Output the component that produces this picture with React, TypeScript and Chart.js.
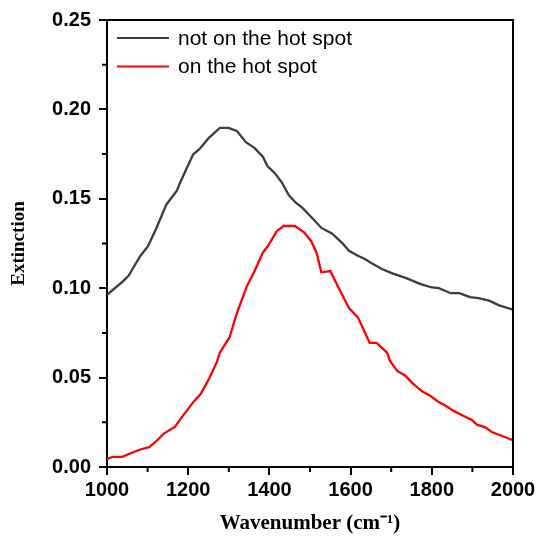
import React, { useEffect, useRef } from "react";
import { Chart, registerables } from "chart.js";

Chart.register(...registerables);

// Wavenumber (cm-1) / extinction readings
const wnOff = [1000, 1040, 1053, 1082, 1101, 1121, 1146, 1172, 1180, 1212, 1227, 1251, 1278, 1299, 1320, 1342, 1363, 1384, 1395, 1414, 1431, 1448, 1465, 1482, 1503, 1528, 1554, 1579, 1596, 1618, 1635, 1652, 1677, 1703, 1737, 1771, 1800, 1817, 1847, 1868, 1894, 1915, 1941, 1966, 2000];
const extOff = [0.0963, 0.104, 0.1069, 0.118, 0.1235, 0.1333, 0.1467, 0.1546, 0.159, 0.1748, 0.1776, 0.1841, 0.1897, 0.1897, 0.1879, 0.1817, 0.1785, 0.1735, 0.1683, 0.1642, 0.159, 0.1519, 0.1478, 0.1448, 0.1398, 0.1337, 0.1306, 0.1254, 0.1209, 0.1181, 0.1163, 0.1139, 0.1107, 0.1083, 0.1056, 0.1024, 0.1004, 0.1, 0.0972, 0.0972, 0.095, 0.0944, 0.093, 0.0904, 0.088];

const wnOn = [1000, 1014, 1038, 1061, 1082, 1104, 1121, 1140, 1167, 1189, 1214, 1231, 1252, 1271, 1278, 1302, 1320, 1344, 1363, 1384, 1397, 1418, 1435, 1463, 1486, 1503, 1516, 1528, 1550, 1571, 1596, 1618, 1647, 1664, 1690, 1697, 1715, 1735, 1752, 1777, 1796, 1817, 1834, 1856, 1877, 1898, 1911, 1932, 1949, 1975, 2000];
const extOn = [0.0043, 0.0057, 0.0057, 0.008, 0.0098, 0.0111, 0.0144, 0.0187, 0.0224, 0.0293, 0.0367, 0.0409, 0.0496, 0.0589, 0.0639, 0.0726, 0.0861, 0.1009, 0.1093, 0.12, 0.1237, 0.1319, 0.1348, 0.1348, 0.1311, 0.1263, 0.12, 0.1089, 0.1096, 0.1, 0.0889, 0.0837, 0.0694, 0.0694, 0.0639, 0.0593, 0.0537, 0.0511, 0.0469, 0.0422, 0.0398, 0.0363, 0.0343, 0.0311, 0.0287, 0.0265, 0.0237, 0.0222, 0.0194, 0.0172, 0.015];

const seriesLabels = ["not on the hot spot", "on the hot spot"];
const seriesColors = ["#3c3c3c", "#ff0000"];

const xMin = 1000, xMax = 2000, xMajor = 200, xMinor = 100;
const yMin = 0, yMax = 0.25, yMajor = 0.05, yMinor = 0.025;

const framePlugin = {
  id: "frameAndMinor",
  afterDraw(chart: any) {
    const { ctx, chartArea } = chart;
    const xs = chart.scales.x;
    const ys = chart.scales.y;
    ctx.save();
    ctx.strokeStyle = "#000";
    ctx.lineWidth = 2;
    // top & right frame
    ctx.beginPath();
    ctx.moveTo(chartArea.left, chartArea.top);
    ctx.lineTo(chartArea.right, chartArea.top);
    ctx.lineTo(chartArea.right, chartArea.bottom);
    ctx.stroke();
    // minor ticks
    ctx.beginPath();
    for (let v = xMin + xMinor; v < xMax; v += xMajor) {
      const px = xs.getPixelForValue(v);
      ctx.moveTo(px, chartArea.bottom);
      ctx.lineTo(px, chartArea.bottom + 5);
    }
    for (let v = yMin + yMinor; v < yMax; v += yMajor) {
      const py = ys.getPixelForValue(v);
      ctx.moveTo(chartArea.left, py);
      ctx.lineTo(chartArea.left - 5, py);
    }
    ctx.stroke();
    // legend
    ctx.font = '21px "Liberation Sans", Arial, sans-serif';
    ctx.textBaseline = "middle";
    ctx.textAlign = "left";
    chart.data.datasets.forEach((ds: any, i: number) => {
      const y = chartArea.top + 18 + i * 28.5;
      const x0 = chartArea.left + 10;
      ctx.strokeStyle = ds.borderColor;
      ctx.lineWidth = 2;
      ctx.beginPath();
      ctx.moveTo(x0, y);
      ctx.lineTo(x0 + 52, y);
      ctx.stroke();
      ctx.fillStyle = "#000";
      ctx.fillText(ds.label, x0 + 61, y + 1);
    });
    ctx.restore();
  },
};

export default function App() {
  const ref = useRef<HTMLCanvasElement>(null);
  useEffect(() => {
    if (!ref.current) return;
    const tickFont = { family: '"Liberation Sans", Arial, sans-serif', size: 20, weight: "bold" as const };
    const chart = new Chart(ref.current, {
      type: "line",
      data: {
        datasets: [
          {
            label: seriesLabels[0],
            data: wnOff.map((x, i) => ({ x, y: extOff[i] })),
            borderColor: seriesColors[0],
            backgroundColor: seriesColors[0],
            borderWidth: 2.3,
            pointRadius: 0,
            tension: 0,
          },
          {
            label: seriesLabels[1],
            data: wnOn.map((x, i) => ({ x, y: extOn[i] })),
            borderColor: seriesColors[1],
            backgroundColor: seriesColors[1],
            borderWidth: 2.3,
            pointRadius: 0,
            tension: 0,
          },
        ],
      },
      options: {
        animation: false,
        responsive: true,
        maintainAspectRatio: false,
        layout: { padding: { top: 17, right: 27, left: 0, bottom: 0 } },
        plugins: { legend: { display: false }, tooltip: { enabled: false } },
        scales: {
          x: {
            type: "linear",
            min: xMin,
            max: xMax,
            afterFit: (s: any) => { s.height = 69; },
            ticks: { stepSize: xMajor, color: "#000", font: tickFont, padding: 3, maxRotation: 0, autoSkip: false, callback: (v: any) => String(Math.round(Number(v))) },
            grid: { display: true, drawOnChartArea: false, drawTicks: true, tickLength: 8, color: "#000", lineWidth: 2 },
            border: { display: true, color: "#000", width: 2 },
            title: {
              display: true,
              text: "Wavenumber (cm⁻¹)",
              color: "#000",
              font: { family: '"Liberation Serif", "Times New Roman", serif', size: 21, weight: "bold" },
              padding: { top: 0, bottom: 0 },
            },
          },
          y: {
            type: "linear",
            min: yMin,
            max: yMax,
            afterFit: (s: any) => { s.width = 107; },
            ticks: { stepSize: yMajor, color: "#000", font: tickFont, padding: 8, callback: (v: any) => Number(v).toFixed(2) },
            grid: { display: true, drawOnChartArea: false, drawTicks: true, tickLength: 8, color: "#000", lineWidth: 2 },
            border: { display: true, color: "#000", width: 2 },
            title: {
              display: true,
              text: "Extinction",
              color: "#000",
              font: { family: '"Liberation Serif", "Times New Roman", serif', size: 19, weight: "bold" },
              padding: { top: 8, bottom: 0 },
            },
          },
        },
      },
      plugins: [framePlugin],
    });
    return () => chart.destroy();
  }, []);
  return (
    <div style={{ position: "fixed", left: 0, top: 0, width: 540, height: 536, background: "#fff" }}>
      <canvas ref={ref} />
    </div>
  );
}
